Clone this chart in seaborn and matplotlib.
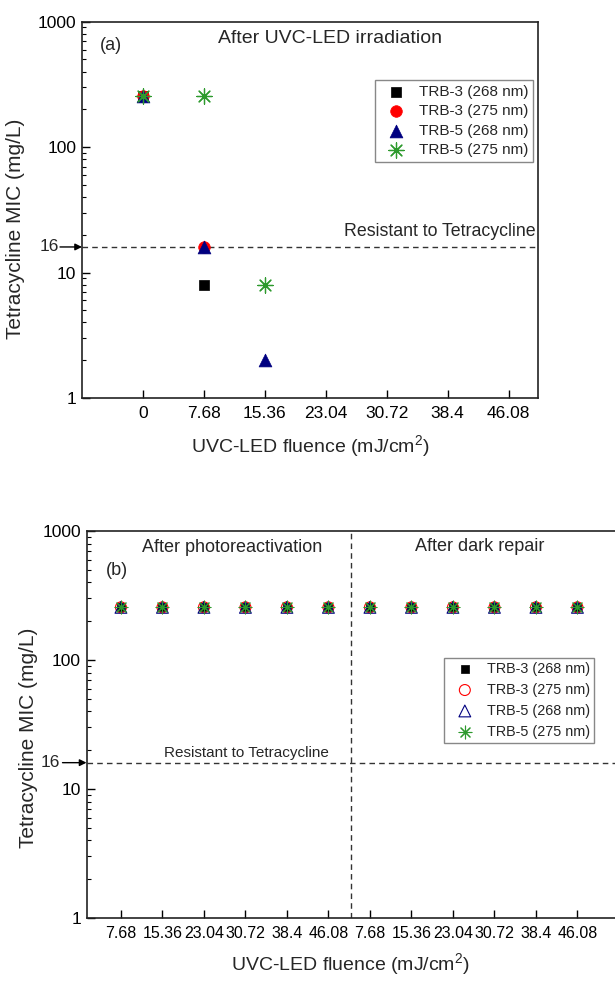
import numpy as np
import pandas as pd
import matplotlib
matplotlib.use("Agg")
import matplotlib.pyplot as plt
import matplotlib.transforms as mtransforms
from matplotlib.ticker import LogLocator, NullFormatter, FixedLocator, FixedFormatter
import seaborn as sns

# ---------------- data ----------------
series_names = ["TRB-3 (268 nm)", "TRB-3 (275 nm)", "TRB-5 (268 nm)", "TRB-5 (275 nm)"]

# panel (a): after UVC-LED irradiation
a_ticks = [0, 7.68, 15.36, 23.04, 30.72, 38.4, 46.08]
a_tick_labels = ["0", "7.68", "15.36", "23.04", "30.72", "38.4", "46.08"]
a_x_trb3_268 = [0, 7.68]
a_y_trb3_268 = [256, 8]
a_x_trb3_275 = [0, 7.68]
a_y_trb3_275 = [256, 16]
a_x_trb5_268 = [0, 7.68, 15.36]
a_y_trb5_268 = [256, 16, 2]
a_x_trb5_275 = [0, 7.68, 15.36]
a_y_trb5_275 = [256, 256, 8]

# panel (b): after photoreactivation (first 6) and dark repair (last 6)
b_labels = ["7.68", "15.36", "23.04", "30.72", "38.4", "46.08",
            "7.68", "15.36", "23.04", "30.72", "38.4", "46.08"]
b_pos = list(range(1, 13))
b_y_trb3_268 = [256] * 12
b_y_trb3_275 = [256] * 12
b_y_trb5_268 = [256] * 12
b_y_trb5_275 = [256] * 12

threshold = 16

# ---------------- style ----------------
sns.set_theme(style="ticks")
plt.rcParams["font.family"] = ["Liberation Sans", "DejaVu Sans"]
plt.rcParams["mathtext.fontset"] = "custom"
plt.rcParams["mathtext.rm"] = "Liberation Sans"

W, H = 615, 983
fig = plt.figure(figsize=(W / 100, H / 100), dpi=100)

def ax_rect(l, r, t, b):
    return [l / W, 1 - b / H, (r - l) / W, (b - t) / H]

ax_a = fig.add_axes(ax_rect(82, 538.4, 21.7, 398))
ax_b = fig.add_axes(ax_rect(86.5, 615, 531, 918))

GREEN = "#2E9A2E"
RED = "#FF0000"
NAVY = "#000080"
ASTER = (8, 2, 0)

def style_axis(ax, tick_fs):
    ax.set_yscale("log")
    ax.set_ylim(1, 1000)
    ax.yaxis.set_major_locator(FixedLocator([1, 10, 100, 1000]))
    ax.yaxis.set_major_formatter(FixedFormatter(["1", "10", "100", "1000"]))
    ax.yaxis.set_minor_locator(LogLocator(base=10, subs=np.arange(2, 10)))
    ax.yaxis.set_minor_formatter(NullFormatter())
    ax.tick_params(axis="both", which="major", direction="in", length=6, width=1,
                   color="black", labelsize=tick_fs, labelcolor="black")
    ax.tick_params(axis="y", which="minor", direction="in", length=3, width=0.8, color="black")
    ax.tick_params(axis="x", pad=6)
    ax.tick_params(axis="y", pad=4, labelsize=12.5)
    for s in ax.spines.values():
        s.set_linewidth(1.2)
        s.set_color("#222222")
    ax.axhline(threshold, color="#333333", lw=1, ls=(0, (4, 3)), zorder=1)

def arrow16(ax, dx_text, dx_arrow):
    trans = mtransforms.blended_transform_factory(ax.transAxes, ax.transData)
    ax.annotate("", xy=(0, threshold), xycoords=trans,
                xytext=(-dx_arrow * 0.72, 0), textcoords="offset points",
                arrowprops=dict(arrowstyle="-|>", color="black", lw=1,
                                mutation_scale=10, shrinkA=0, shrinkB=0),
                annotation_clip=False)
    ax.annotate("16", xy=(0, threshold), xycoords=trans,
                xytext=(-dx_text * 0.72, 0), textcoords="offset points",
                ha="right", va="center", fontsize=12.5, annotation_clip=False)

def add_legend(ax, anchor, fs, hl, htp, ls):
    leg = ax.legend(loc="upper right", bbox_to_anchor=anchor, fontsize=fs,
                    frameon=True, fancybox=False, edgecolor="#888888", framealpha=1,
                    borderpad=0.3, labelspacing=ls, handletextpad=htp,
                    handlelength=hl, borderaxespad=0)
    leg.get_frame().set_linewidth(1)
    return leg

# ---------------- panel (a) ----------------
style_axis(ax_a, 12.5)
sns.scatterplot(x=a_x_trb3_268, y=a_y_trb3_268, marker="s", s=42, color="black",
                edgecolor="black", linewidth=0.5, label=series_names[0], ax=ax_a, zorder=3)
sns.scatterplot(x=a_x_trb3_275, y=a_y_trb3_275, marker="o", s=70, color=RED,
                edgecolor=RED, linewidth=0.5, label=series_names[1], ax=ax_a, zorder=3)
sns.scatterplot(x=a_x_trb5_268, y=a_y_trb5_268, marker="^", s=85, color=NAVY,
                edgecolor=NAVY, linewidth=0.5, label=series_names[2], ax=ax_a, zorder=3)
sns.scatterplot(x=a_x_trb5_275, y=a_y_trb5_275, marker=ASTER, s=120, color=GREEN,
                linewidth=0.9, label=series_names[3], ax=ax_a, zorder=4)
ax_a.set_xlim(-7.68, 49.84)
ax_a.set_xticks(a_ticks)
ax_a.set_xticklabels(a_tick_labels)
ax_a.set_xlabel("UVC-LED fluence (mJ/cm$^2$)", fontsize=14, labelpad=9)
ax_a.set_ylabel("Tetracycline MIC (mg/L)", fontsize=15)
ax_a.yaxis.set_label_coords(-0.125, 0.45)
ax_a.text(0.543, 0.955, "After UVC-LED irradiation", transform=ax_a.transAxes,
          ha="center", va="center", fontsize=14)
ax_a.text(0.04, 0.938, "(a)", transform=ax_a.transAxes, ha="left", va="center", fontsize=13)
ax_a.text(0.995, 0.443, "Resistant to Tetracycline", transform=ax_a.transAxes,
          ha="right", va="center", fontsize=12.8)
arrow16(ax_a, 23, 22)
add_legend(ax_a, (0.988, 0.845), 11, 2.1, 0.45, 0.36)

# ---------------- panel (b) ----------------
style_axis(ax_b, 11.5)
sns.scatterplot(x=b_pos, y=b_y_trb3_268, marker="s", s=36, color="black",
                edgecolor="black", linewidth=0.5, label=series_names[0], ax=ax_b, zorder=3)
sns.scatterplot(x=b_pos, y=b_y_trb3_275, marker="o", s=62, facecolor="none",
                edgecolor=RED, linewidth=0.8, label=series_names[1], ax=ax_b, zorder=3)
sns.scatterplot(x=b_pos, y=b_y_trb5_268, marker="^", s=72, facecolor="none",
                edgecolor=NAVY, linewidth=0.8, label=series_names[2], ax=ax_b, zorder=3)
sns.scatterplot(x=b_pos, y=b_y_trb5_275, marker=ASTER, s=85, color=GREEN,
                linewidth=0.8, label=series_names[3], ax=ax_b, zorder=4)
ax_b.set_xlim(0.17, 12.905)
ax_b.set_xticks(b_pos)
ax_b.set_xticklabels(b_labels)
ax_b.spines["right"].set_visible(False)
ax_b.axvline(6.55, color="#333333", lw=1, ls=(0, (4, 3)), zorder=1)
ax_b.set_xlabel("UVC-LED fluence (mJ/cm$^2$)", fontsize=14, labelpad=7)
ax_b.set_ylabel("Tetracycline MIC (mg/L)", fontsize=15)
ax_b.yaxis.set_label_coords(-0.092, 0.465)
ax_b.text(0.275, 0.957, "After photoreactivation", transform=ax_b.transAxes,
          ha="center", va="center", fontsize=13)
ax_b.text(0.744, 0.959, "After dark repair", transform=ax_b.transAxes,
          ha="center", va="center", fontsize=13)
ax_b.text(0.037, 0.897, "(b)", transform=ax_b.transAxes, ha="left", va="center", fontsize=13)
ax_b.text(0.302, 0.427, "Resistant to Tetracycline", transform=ax_b.transAxes,
          ha="center", va="center", fontsize=11)
arrow16(ax_b, 26, 24)
add_legend(ax_b, (0.961, 0.673), 10.4, 2.3, 0.38, 0.48)

fig.savefig("out.png", dpi=100)
